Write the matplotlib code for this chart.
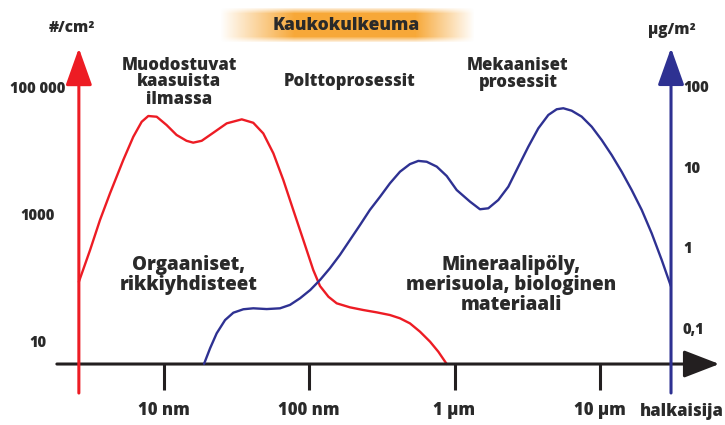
import numpy as np
import matplotlib.pyplot as plt

plt.rcParams['font.family'] = ['Open Sans', 'DejaVu Sans']
plt.rcParams['font.weight'] = 'heavy'

# halkaisija (nm) ja lukumaarapitoisuus (#/cm3), luettu kuvasta
red_d = [2.62, 3.13, 3.66, 4.29, 5.29, 6.20, 7.08, 7.86, 8.98, 10.5, 12.3,
         14.4, 16.0, 18.3, 22.0, 27.2, 34.5, 41.4, 48.5, 56.9, 66.6, 78.0,
         91.4, 107, 119, 136, 155, 191, 236, 292, 360, 422, 494, 579, 679,
         774, 884]
red_n = [92, 292, 865, 2280, 7620, 17700, 30500, 37600, 36600, 27100, 18900,
         15300, 14300, 15300, 20500, 28800, 33300, 29400, 20000, 9710, 3690,
         1240, 419, 141, 79, 53.6, 42.2, 36.5, 33.1, 30.4, 27.6, 24.5, 20.4,
         15.1, 10.5, 7.3, 4.67]

# halkaisija (nm) ja massapitoisuus (ug/m3)
blue_d = [19.0, 20.9, 23.2, 26.5, 30.2, 35.4, 41.4, 51.2, 63.2, 74.0, 86.8,
          102, 119, 139, 163, 191, 224, 262, 308, 360, 422, 494, 564, 644,
          755, 884, 1035, 1278, 1496, 1708, 2000, 2344, 2745, 3215, 3767,
          4414, 5040, 5594, 6385, 7482, 8770, 10270, 12030, 14090, 16510,
          19350, 22650, 26550, 30700]
blue_m = [0.038, 0.0593, 0.091, 0.133, 0.164, 0.181, 0.186, 0.182, 0.186,
          0.205, 0.248, 0.314, 0.418, 0.583, 0.855, 1.31, 2.01, 3.10, 4.53,
          6.64, 9.25, 11.5, 12.6, 12.3, 10.7, 8.18, 5.48, 3.93, 3.16, 3.25,
          4.12, 6.03, 10.7, 18.9, 32.0, 46.9, 55.2, 56.8, 53.0, 44.7, 33.5,
          22.9, 14.9, 9.25, 5.48, 3.10, 1.59, 0.741, 0.35]

x_ticks = [10, 100, 1000, 10000]
x_labels = ['10 nm', '100 nm', '1 µm', '10 µm']
left_ticks = [1e5, 1e3, 10]
left_labels = ['100 000', '1000', '10']
right_ticks = [100, 10, 1, 0.1]
right_labels = ['100', '10', '1', '0,1']

RED = '#ed1c24'
BLUE = '#2e3192'
INK = '#231f20'
TXT = '#2a2a2a'

fig = plt.figure(figsize=(7.25, 4.25), dpi=100)
ax = fig.add_axes([0, 0, 1, 1])
ax.set_xscale('log')
ax.set_yscale('log')
ax.set_xlim(10**-0.1237, 10**4.859)
ax.set_ylim(10**-0.291, 10**6.402)
ax.axis('off')

ax2 = ax.twinx()
ax2.set_yscale('log')
ax2.set_ylim(10**-2.180, 10**3.099)
ax2.axis('off')

x_axis_y = 4.67
x_left, x_right = 1.85, 66000
red_x = red_d[0]
blue_x = 30760

# vaaka-akseli
ax.annotate('', xy=(x_right, x_axis_y), xytext=(x_left, x_axis_y),
            arrowprops=dict(arrowstyle='-|>,head_length=2.2,head_width=0.85',
                            color=INK, lw=2.2, shrinkA=0, shrinkB=0,
                            mutation_scale=10))
ax.vlines(x_ticks, 1.82, x_axis_y, color=INK, lw=2.2)
for t, lab in zip(x_ticks, x_labels):
    ax.text(t, 0.88, lab, ha='center', va='center', fontsize=12, color=TXT)
ax.text(36600, 0.84, 'halkaisija', ha='center', va='center', fontsize=12, color=TXT)

# vasen akseli
ax.annotate('', xy=(red_x, 4.4e5), xytext=(red_x, 1.63),
            arrowprops=dict(arrowstyle='-|>,head_length=2.3,head_width=0.82',
                            color=RED, lw=2.2, shrinkA=0, shrinkB=0,
                            mutation_scale=10))
for t, lab in zip(left_ticks, left_labels):
    ax.text(1.373, t, lab, ha='center', va='center', fontsize=10.5, color=TXT)

# oikea akseli
ax2.annotate('', xy=(blue_x, 318), xytext=(blue_x, 0.0165),
             arrowprops=dict(arrowstyle='-|>,head_length=2.3,head_width=0.82',
                             color=BLUE, lw=2.2, shrinkA=0, shrinkB=0,
                             mutation_scale=10))
for t, lab in zip(right_ticks, right_labels):
    ax2.text(37150, t, lab, ha='left', va='center', fontsize=10.5, color=TXT)

ax.plot(red_d, red_n, color=RED, lw=1.7, solid_capstyle='round',
        solid_joinstyle='round')
ax2.plot(blue_d, blue_m, color=BLUE, lw=1.7, solid_capstyle='round',
         solid_joinstyle='round')

def fig_text(px, py, s, size, **kw):
    fig.text(px / 725, 1 - py / 425, s, ha='center', va='center',
             fontsize=size, color=TXT, linespacing=1.0, **kw)

fig_text(72, 28, '#/cm²', 11)
fig_text(672, 30, 'µg/m²', 11)
fig_text(179, 82, 'Muodostuvat\nkaasuista\nilmassa', 12)
fig_text(350, 82, 'Polttoprosessit', 12)
fig_text(518, 74, 'Mekaaniset\nprosessit', 12)
fig_text(189, 275, 'Orgaaniset,\nrikkiyhdisteet', 13.5)
fig_text(511, 285, 'Mineraalipöly,\nmerisuola, biologinen\nmateriaali', 13.5)

# oranssi liukuvarjo
bx = fig.add_axes([220 / 725, 1 - 42 / 425, 255 / 725, 34 / 425])
w, h = 255, 34
ax_prof = np.ones(w)
ax_prof[:75] = np.linspace(0, 1, 75)
ax_prof[-60:] = np.linspace(1, 0, 60)
ay_prof = np.ones(h)
ay_prof[:6] = np.linspace(0.2, 1, 6)
ay_prof[-6:] = np.linspace(1, 0.2, 6)
img = np.zeros((h, w, 4))
img[..., 0] = 0.97
img[..., 1] = 0.66
img[..., 2] = 0.22
img[..., 3] = np.outer(ay_prof, ax_prof)
bx.imshow(img, aspect='auto', interpolation='bilinear')
bx.axis('off')
bx.text(0.495, 0.5, 'Kaukokulkeuma', transform=bx.transAxes, ha='center',
        va='center', fontsize=12.5, color=TXT)

fig.savefig('out.png', dpi=100)
